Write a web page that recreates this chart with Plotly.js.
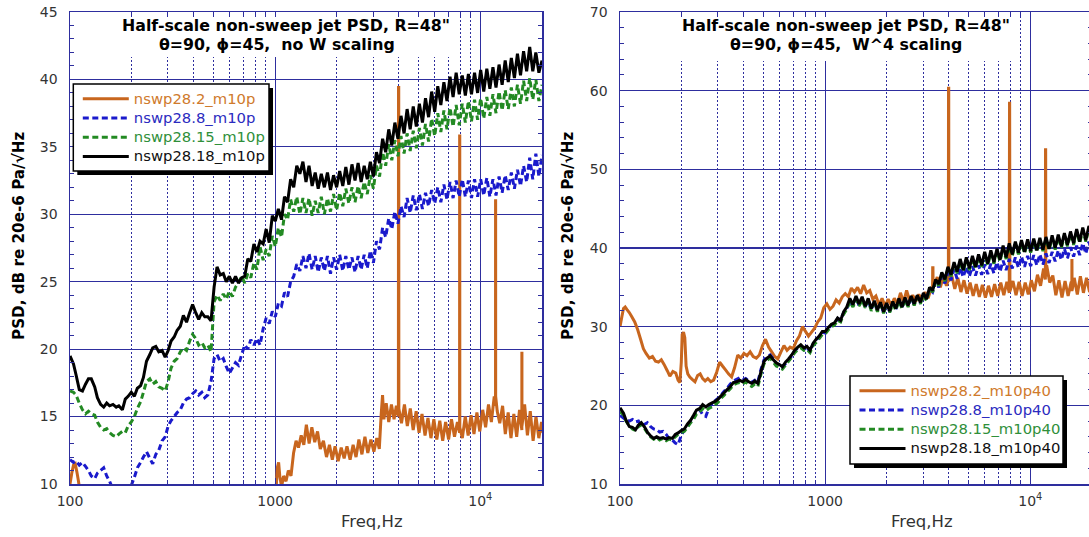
<!DOCTYPE html>
<html>
<head>
<meta charset="utf-8">
<script src="https://cdn.plot.ly/plotly-3.0.1.min.js"></script>
<style>
html,body{margin:0;padding:0;background:#fff;overflow:hidden;}
#chart{width:1100px;height:537px;}
</style>
</head>
<body>
<div id="chart"></div>
<script>
// ---------- data ----------
const freq = [100,104,107,111,115,119,123,127,132,136,
141,146,151,156,162,168,173,180,186,192,
199,206,213,221,228,236,245,253,262,271,
281,291,301,311,322,333,345,357,370,383,
396,410,424,439,454,470,487,504,521,540,
559,578,598,619,641,663,687,711,736,761,
788,815,844,874,904,936,969,1002,1037,1074,
1111,1150,1190,1232,1275,1320,1366,1414,1463,1515,
1568,1622,1679,1738,1799,1862,1927,1994,2064,2137,
2211,2289,2369,2452,2538,2626,2718,2813,2912,3014,
3119,3229,3342,3459,3580,3705,3835,3969,4108,4252,
4400,4554,4714,4879,5050,5226,5409,5599,5795,5997,
6207,6425,6649,6882,7123,7372,7630,7897,8174,8460,
8756,9062,9380,9708,10048,10400,10764,11140,11530,11934,
12351,12784,13231,13694,14174,14670,15183,15714,16264,16834,
17423,18033,18664,19317,20000];

const leftBlack = [19.5,18.9,18.1,17.0,16.9,17.4,17.8,17.8,17.2,16.4,
15.9,15.7,16.0,15.8,15.9,15.7,15.8,15.5,16.3,16.5,
16.8,16.5,17.1,17.3,17.9,19.1,19.6,20.1,20.2,19.8,
19.9,19.4,19.9,20.6,20.9,21.4,21.7,22.5,22.0,22.7,
23.3,22.7,22.2,22.7,22.4,22.4,22.1,24.6,26.1,25.5,
25.6,25.0,25.4,24.9,25.4,24.9,25.3,25.4,26.7,26.5,
27.8,27.2,28.0,27.8,28.9,27.9,29.9,29.5,30.4,29.6,
31.3,30.9,32.6,32.0,33.6,33.0,33.9,32.4,33.6,32.1,
33.1,31.9,33.0,32.0,33.1,31.8,32.9,32.0,33.2,32.1,
33.5,32.2,33.7,32.5,33.8,32.4,33.6,32.6,33.9,32.8,
34.6,33.8,35.6,34.6,36.3,35.1,36.8,35.6,37.3,36.0,
37.8,36.3,38.0,36.5,38.2,36.8,38.6,37.2,39.1,37.6,
39.5,38.1,39.8,38.4,40.2,38.7,40.5,38.9,40.3,38.8,
40.4,38.9,40.5,39.0,40.7,39.1,40.8,39.3,40.9,39.4,
41.1,39.6,41.4,39.8,41.6,40.1,41.9,40.3,42.1,40.6,
42.4,40.6,42.0,40.5,41.4];

const leftGreen = [16.9,16.8,16.6,16.0,15.5,15.2,15.4,15.2,15.1,14.6,
14.2,14.0,14.1,13.8,13.6,13.5,13.7,13.9,13.8,14.3,
14.6,15.0,15.6,16.1,16.8,17.6,17.8,17.4,17.6,17.2,
17.1,16.9,17.6,18.6,19.1,19.3,19.8,20.1,19.9,20.6,
21.1,20.8,20.3,20.5,20.1,20.3,19.8,23.5,24.0,23.6,
24.1,23.7,24.3,23.9,24.6,24.9,25.4,24.9,25.6,25.3,
26.4,25.9,27.6,26.6,27.4,26.9,28.4,27.6,29.0,28.3,
30.0,29.6,31.1,30.2,31.3,30.0,31.2,30.1,31.2,29.9,
31.0,30.1,31.3,30.0,31.2,30.2,31.5,30.3,31.6,30.6,
31.9,30.8,32.0,30.9,32.1,31.2,32.4,31.5,32.9,31.9,
33.6,32.8,34.6,33.6,35.2,34.0,35.5,34.3,35.8,34.5,
36.0,34.7,36.2,34.9,36.4,35.1,36.7,35.4,37.1,35.8,
37.5,36.1,37.7,36.3,37.9,36.5,38.1,36.6,38.2,36.8,
38.4,36.9,38.5,37.0,38.6,37.1,38.7,37.3,38.9,37.5,
39.1,37.7,39.2,37.8,39.4,38.0,39.6,38.2,39.9,38.4,
40.1,38.5,40.0,38.4,39.6];

const leftBlue = [11.8,11.6,11.7,11.4,11.6,11.3,11.0,10.6,10.4,10.8,
11.0,11.2,10.6,10.2,9.6,9.2,9.0,8.9,9.2,9.5,
9.9,10.5,11.2,11.6,12.0,12.4,11.9,11.5,12.2,12.5,
13.2,13.5,14.3,14.7,15.0,15.3,15.5,16.0,16.3,16.4,
16.7,16.9,16.6,16.8,16.4,16.6,17.6,19.3,19.6,19.1,
19.3,18.7,18.2,18.6,19.0,18.8,19.6,20.3,20.0,20.7,
20.3,20.8,20.3,21.5,22.3,21.9,22.8,22.4,23.4,23.2,
24.2,23.9,25.0,25.4,26.3,25.8,26.9,26.0,27.1,25.9,
26.9,25.7,26.8,25.8,26.9,25.6,26.8,25.9,27.0,25.8,
26.9,25.9,26.8,25.7,26.9,25.9,27.0,26.0,27.3,26.4,
28.0,27.4,29.0,28.3,29.7,28.9,30.2,29.3,30.6,29.8,
31.2,30.1,31.4,30.3,31.5,30.4,31.6,30.6,31.8,30.8,
32.0,30.9,32.2,31.1,32.4,31.2,32.5,31.3,32.6,31.3,
32.5,31.2,32.6,31.3,32.6,31.4,32.7,31.3,32.6,31.4,
32.8,31.6,32.9,31.8,33.1,31.9,33.3,32.1,33.6,32.4,
34.2,32.6,34.5,32.8,34.4];

// [frequency Hz, dB] pairs for the orange runs (they carry narrow tones)
const leftOrange = [[100,10.0],[102,10.8],[104,11.4],[106,11.5],[108,10.9],[110,10.2],[113,9.0],[118,8.0],[990,8.0],[1010,9.5],[1025,11.2],[1040,11.6],[1055,10.5],[1075,9.8],[1100,10.6],[1130,10.2],[1160,11.0],[1195,10.6],[1230,12.3],[1265,13.2],[1300,12.7],[1340,13.6],[1380,12.9],[1420,14.4],[1465,13.0],[1510,14.2],[1560,13.1],[1610,13.9],[1660,12.6],[1720,13.2],[1780,12.0],[1840,12.9],[1900,11.8],[1960,12.8],[2030,11.7],[2100,12.7],[2170,11.9],[2240,12.8],[2320,11.8],[2400,12.9],[2480,12.0],[2560,13.3],[2650,12.2],[2740,13.5],[2830,12.3],[2930,13.3],[3030,12.4],[3130,13.4],[3220,12.6],[3290,15.2],[3340,16.6],[3390,14.8],[3480,16.0],[3580,14.6],[3690,15.9],[3800,14.8],[3900,15.8],[3990,15.0],[3995,39.4],[4005,39.4],[4010,15.6],[4130,14.5],[4270,15.9],[4410,14.3],[4560,15.6],[4710,14.0],[4870,15.4],[5030,13.8],[5200,15.2],[5380,13.6],[5560,14.9],[5750,13.4],[5940,14.8],[6140,13.3],[6350,14.7],[6560,13.2],[6780,14.6],[7010,13.3],[7240,14.8],[7490,13.5],[7740,14.6],[7930,13.8],[7935,35.8],[7945,35.8],[7950,14.2],[8180,13.4],[8450,15.0],[8730,13.6],[9020,15.1],[9320,13.7],[9630,15.3],[9950,13.9],[10280,15.5],[10620,14.2],[10970,15.9],[11330,14.6],[11700,16.5],[11870,15.8],[11875,31.0],[11885,31.0],[11890,16.5],[12100,15.4],[12450,14.5],[12850,15.8],[13250,13.7],[13680,15.3],[14120,13.4],[14580,15.2],[15050,13.5],[15540,15.5],[15950,14.0],[15955,19.7],[15965,19.7],[15970,14.3],[16450,15.9],[16980,13.6],[17530,15.4],[18100,13.2],[18690,15.0],[19300,13.4],[19900,14.6],[20000,13.8]];

const rightOrange = [[100,30.0],[102,31.2],[104,32.3],[106,32.5],[108,32.2],[111,31.8],[114,31.3],[118,30.6],[122,29.6],[126,28.4],[130,27.2],[134,26.6],[139,26.0],[144,26.2],[149,25.6],[154,25.5],[159,25.8],[164,25.2],[170,24.4],[175,23.7],[181,24.3],[187,24.1],[192,23.2],[196,22.9],[199,25.5],[201,29.0],[204,29.3],[207,28.6],[210,25.0],[214,24.0],[219,23.6],[225,23.3],[232,23.0],[239,23.8],[246,24.0],[253,23.4],[260,23.1],[268,23.4],[277,23.0],[286,23.2],[296,24.2],[306,25.5],[316,25.0],[327,24.5],[338,24.0],[350,23.6],[362,24.8],[375,26.4],[388,26.0],[402,26.6],[416,26.3],[431,26.8],[446,26.2],[462,26.0],[478,26.4],[495,27.6],[512,28.4],[530,27.4],[549,26.8],[568,26.2],[588,25.9],[609,26.8],[630,27.6],[652,27.0],[675,27.4],[699,27.2],[724,28.2],[749,28.8],[775,30.0],[802,29.4],[830,28.8],[859,29.3],[889,29.8],[920,30.6],[952,31.1],[985,32.4],[1020,32.9],[1056,32.2],[1093,32.6],[1131,33.4],[1171,33.0],[1212,33.8],[1254,34.2],[1298,33.8],[1343,34.9],[1390,34.4],[1439,35.0],[1489,34.2],[1541,35.3],[1595,34.3],[1651,34.6],[1709,33.5],[1769,33.9],[1831,32.8],[1895,33.6],[1961,32.6],[2030,33.5],[2101,32.7],[2175,33.6],[2251,32.9],[2330,34.3],[2412,33.1],[2496,34.6],[2583,33.3],[2674,34.0],[2767,33.2],[2864,34.1],[2965,33.4],[3069,34.4],[3176,33.6],[3287,34.8],[3340,35.0],[3345,37.5],[3355,37.5],[3360,35.1],[3402,35.2],[3521,36.3],[3645,35.0],[3772,36.4],[3904,35.2],[3990,36.0],[3995,60.3],[4005,60.3],[4010,35.8],[4141,36.5],[4286,34.8],[4436,36.2],[4591,34.4],[4752,35.9],[4918,34.2],[5090,35.6],[5269,33.9],[5453,35.4],[5644,33.8],[5842,35.3],[6046,33.7],[6258,35.2],[6477,33.8],[6704,35.4],[6938,33.9],[7181,35.6],[7432,34.0],[7692,35.7],[7900,34.3],[7925,58.4],[7935,58.4],[7960,34.5],[8235,35.8],[8523,34.0],[8822,35.7],[9131,33.9],[9450,35.6],[9781,34.1],[10123,35.9],[10478,34.5],[10844,36.6],[11224,35.2],[11617,37.4],[11850,36.0],[11870,52.5],[11890,52.5],[11910,36.4],[12023,37.8],[12444,35.6],[12880,36.5],[13331,34.0],[13797,35.9],[14280,33.7],[14780,35.8],[15297,33.9],[15832,35.7],[15950,34.5],[15960,38.4],[15970,38.4],[15990,34.6],[16386,36.2],[16960,34.1],[17553,36.4],[18168,34.3],[18804,36.2],[19462,34.4],[20000,35.4]];

const rightBlack = [19.7,19.0,18.1,17.3,17.2,16.9,17.5,17.8,17.2,16.6,
16.1,15.8,16.0,15.8,15.9,15.7,15.9,15.8,16.3,16.5,
16.8,17.0,17.6,18.1,18.7,19.4,19.6,20.1,19.8,20.1,
20.3,20.5,20.8,21.2,21.6,22.0,22.4,22.9,23.0,23.2,
23.0,23.3,23.0,22.8,23.1,22.8,24.3,25.6,26.0,26.3,
25.8,25.4,25.2,24.9,25.5,25.9,26.4,27.0,27.4,27.7,
27.3,27.5,27.0,27.9,28.4,28.8,29.4,29.4,29.9,30.3,
30.5,31.1,30.8,31.9,32.5,33.6,32.8,33.9,32.9,33.8,
32.6,33.6,32.3,33.3,32.1,33.1,31.9,33.0,32.0,33.2,
32.3,33.6,32.5,33.7,32.7,33.9,32.9,34.0,33.1,34.3,
33.5,35.0,34.6,36.0,35.4,36.9,36.0,37.6,36.6,38.2,
37.0,38.6,37.2,38.8,37.4,39.0,37.6,39.2,37.8,39.5,
38.0,39.7,38.2,39.9,38.5,40.3,38.8,40.6,39.2,40.8,
39.4,41.0,39.5,41.1,39.6,41.2,39.7,41.3,39.8,41.4,
39.9,41.6,40.0,41.7,40.2,41.9,40.4,42.1,40.6,42.4,
40.8,42.6,41.0,42.8,41.4];

const rightGreen = [19.2,18.8,18.0,17.4,17.0,16.8,17.3,17.5,17.0,16.5,
16.0,15.7,15.9,15.6,15.8,15.5,15.7,15.6,16.0,16.3,
16.5,16.7,17.2,17.8,18.2,18.9,19.2,19.6,19.3,19.6,
19.8,20.1,20.4,20.9,21.3,21.7,22.1,22.6,22.8,22.9,
22.7,23.0,22.6,22.4,22.7,22.4,24.0,25.3,25.7,26.0,
25.5,25.0,24.8,24.6,25.1,25.6,26.1,26.7,27.1,27.3,
27.0,27.1,26.7,27.6,28.0,28.5,29.0,29.1,29.6,30.0,
30.2,30.8,30.6,31.6,32.2,33.2,32.5,33.5,32.6,33.4,
32.4,33.3,32.0,33.0,31.9,32.8,31.7,32.8,31.8,32.9,
32.1,33.3,32.3,33.4,32.5,33.6,32.7,33.8,32.9,34.0,
33.3,34.8,34.4,35.8,35.2,36.6,35.8,37.3,36.4,37.9,
36.8,38.3,37.0,38.5,37.2,38.7,37.4,38.9,37.6,39.2,
37.8,39.4,38.0,39.6,38.3,40.0,38.6,40.3,39.0,40.5,
39.2,40.7,39.3,40.8,39.4,40.9,39.5,41.0,39.6,41.1,
39.7,41.3,39.8,41.4,40.0,41.6,40.2,41.8,40.4,42.1,
40.6,42.3,40.8,42.5,41.2];

const rightBlue = [18.7,18.4,18.1,18.0,18.2,17.9,18.0,17.4,17.6,17.8,
17.3,17.0,16.9,16.6,16.7,16.3,15.8,15.6,15.2,15.0,
16.2,16.9,17.4,17.9,18.5,19.2,19.4,18.8,18.6,19.6,
20.2,20.6,20.9,21.3,21.8,22.2,22.7,23.1,23.3,23.5,
23.2,23.4,23.1,22.9,23.2,23.0,24.6,25.8,26.2,26.4,
25.9,25.3,25.0,24.8,25.3,25.7,26.3,26.9,27.3,27.5,
27.1,27.4,26.8,27.8,28.3,28.7,29.3,29.2,29.8,30.2,
30.4,31.0,30.9,31.8,32.3,33.3,32.6,33.7,32.7,33.5,
32.5,33.4,32.2,33.1,32.0,32.9,31.8,32.9,31.9,33.0,
32.2,33.4,32.4,33.5,32.6,33.7,32.8,33.8,33.0,34.1,
33.4,34.8,34.4,35.7,35.0,36.4,35.5,36.9,35.9,37.3,
36.1,37.5,36.3,37.6,36.4,37.7,36.5,37.8,36.6,37.9,
36.7,38.0,36.8,38.2,37.0,38.4,37.2,38.6,37.4,38.8,
37.5,38.9,37.6,39.0,37.7,39.1,37.8,39.2,37.9,39.3,
38.1,39.5,38.3,39.7,38.5,39.9,38.7,40.1,38.9,40.3,
39.1,40.6,39.3,40.8,39.5];

const leftNames = ['nswp28.2_m10p','nswp28.8_m10p','nswp28.15_m10p','nswp28.18_m10p'];
const rightNames = ['nswp28.2_m10p40','nswp28.8_m10p40','nswp28.15_m10p40','nswp28.18_m10p40'];
const xTickVals = [100,1000,10000];
const xTickText = ['100','1000','10<sup>4</sup>'];
const xMinorVals = [200,300,400,500,600,700,800,900,2000,3000,4000,5000,6000,7000,8000,9000];
const titleLine1 = 'Half-scale non-sweep jet PSD, R=48"';
const leftTitleLine2 = 'θ=90, ϕ=45,\u00a0 no W scaling';
const rightTitleLine2 = 'θ=90, ϕ=45,\u00a0 W^4 scaling';
const yTitle = 'PSD, dB re 20e-6 Pa/√Hz';
const xTitle = 'Freq,Hz';

// ---------- styling ----------
const GRID = '#2e2e9e';
const FONT = '"DejaVu Sans", "Liberation Sans", Arial, sans-serif';
const COL = {orange:'#c8661e', blue:'#1a1acc', green:'#238a23', black:'#000000'};
const TXT = {orange:'#cf7a2c', blue:'#2b2bc0', green:'#2f8f3a', black:'#111111'};
const W = 1100, H = 537, ML = 70, MR = 8, MT = 12, MB = 53;
const PW = W - ML - MR, PH = H - MT - MB;
const px = v => (v - ML) / PW;
const py = v => (H - MB - v) / PH;

function nm(t, c){ return '<span style="font-size:14.8px;color:' + c + '">' + t + '</span>'; }

const DASH = '6px,3.5px';
const traces = [];
function addSet(xa, ya, leg, names, orange, blue, green, black){
  traces.push({x: orange.map(p=>p[0]), y: orange.map(p=>p[1]), xaxis:xa, yaxis:ya, legend:leg, type:'scatter', mode:'lines',
    name: nm(names[0], TXT.orange), line:{color:COL.orange, width:3, simplify:false}});
  traces.push({x: freq, y: blue, xaxis:xa, yaxis:ya, legend:leg, type:'scatter', mode:'lines',
    name: nm(names[1], TXT.blue), line:{color:COL.blue, width:3, dash:DASH, simplify:false}});
  traces.push({x: freq, y: green, xaxis:xa, yaxis:ya, legend:leg, type:'scatter', mode:'lines',
    name: nm(names[2], TXT.green), line:{color:COL.green, width:3, dash:DASH, simplify:false}});
  traces.push({x: freq, y: black, xaxis:xa, yaxis:ya, legend:leg, type:'scatter', mode:'lines',
    name: nm(names[3], TXT.black), line:{color:COL.black, width:3, simplify:false}});
}
addSet('x','y','legend', leftNames, leftOrange, leftBlue, leftGreen, leftBlack);
addSet('x2','y2','legend2', rightNames, rightOrange, rightBlue, rightGreen, rightBlack);

const tickFont = {family:FONT, size:14, color:'#333333'};
function xAxis(domain, anchor){
  return {type:'log', range:[2, Math.log10(20000)], domain, anchor,
    tickmode:'array', tickvals:xTickVals, ticktext:xTickText,
    ticks:'inside', ticklen:6, tickwidth:1.2, tickcolor:GRID,
    showline:true, linecolor:GRID, linewidth:1.5, mirror:'ticks',
    showgrid:true, gridcolor:GRID, gridwidth:1.2, zeroline:false,
    tickfont:tickFont, ticklabelstandoff:4,
    minor:{tickmode:'array', tickvals:xMinorVals, ticks:'inside', ticklen:4, tickwidth:1, tickcolor:GRID,
      showgrid:true, gridcolor:GRID, gridwidth:1, griddash:'2px,2px'},
    fixedrange:true};
}
function yAxis(range, dtick, minor, anchor){
  return {range, domain:[0,1], anchor, tick0:10, dtick,
    ticks:'inside', ticklen:6, tickwidth:1.2, tickcolor:GRID,
    showline:true, linecolor:GRID, linewidth:1.5, mirror:'ticks',
    showgrid:true, gridcolor:GRID, gridwidth:1.2, zeroline:false,
    tickfont:tickFont, ticklabelstandoff:8,
    minor:{dtick:minor, tick0:10, ticks:'inside', ticklen:4, tickwidth:1, tickcolor:GRID, showgrid:false},
    fixedrange:true};
}

function rect(x0,y0,x1,y1,fill,lineW){
  return {type:'rect', xref:'paper', yref:'paper', layer:'above',
    x0:px(x0), x1:px(x1), y0:py(y1), y1:py(y0),
    fillcolor:fill, line:{color:'#000', width:lineW}};
}
const shapes = [
  rect(115,17,455,57,'#ffffff',0),
  rect(678,17,1012,61,'#ffffff',0),
  rect(77.3,88,273,175,'#000000',0),
  rect(73.3,84,269,171,'#ffffff',1.5),
  rect(854,380,1067,468,'#000000',0),
  rect(850,376,1063,464,'#ffffff',1.5)
];

function ann(text, x, y, size, opts){
  return Object.assign({text, xref:'paper', yref:'paper', x:px(x), y:py(y),
    xanchor:'center', yanchor:'middle', showarrow:false,
    font:{family:FONT, size, color:'#000'}}, opts||{});
}
const annotations = [
  ann('<b>'+titleLine1+'</b>', 286, 25.5, 15.8),
  ann('<b>'+leftTitleLine2+'</b>', 276.5, 44, 15.8),
  ann('<b>'+titleLine1+'</b>', 846, 25.5, 15.8),
  ann('<b>'+rightTitleLine2+'</b>', 845.5, 44, 15.8),
  ann('<b>'+yTitle+'</b>', 19, 236, 15.2, {textangle:-90}),
  ann('<b>'+yTitle+'</b>', 568, 236, 15.2, {textangle:-90}),
  ann(xTitle, 371.7, 521, 16.5, {font:{family:FONT, size:16.5, color:'#333333'}}),
  ann(xTitle, 922, 521, 16.5, {font:{family:FONT, size:16.5, color:'#333333'}})
];

function legendCfg(x, y){
  return {x:px(x), y:py(y), xanchor:'left', yanchor:'top', bgcolor:'rgba(0,0,0,0)',
    borderwidth:0, font:{family:FONT, size:12.5, color:'#000'}, itemwidth:46,
    tracegroupgap:0, traceorder:'normal'};
}

const layout = {
  width:W, height:H, margin:{l:ML, r:MR, t:MT, b:MB, pad:0},
  paper_bgcolor:'#ffffff', plot_bgcolor:'#ffffff',
  showlegend:true,
  xaxis: xAxis([0, px(542)], 'y'),
  yaxis: yAxis([10,45], 5, 1, 'x'),
  xaxis2: xAxis([px(620), 1], 'y2'),
  yaxis2: yAxis([10,70], 10, 2, 'x2'),
  legend: legendCfg(77.8, 84),
  legend2: legendCfg(854.5, 376),
  shapes, annotations
};

Plotly.newPlot('chart', traces, layout, {staticPlot:true, displayModeBar:false});
</script>
</body>
</html>
